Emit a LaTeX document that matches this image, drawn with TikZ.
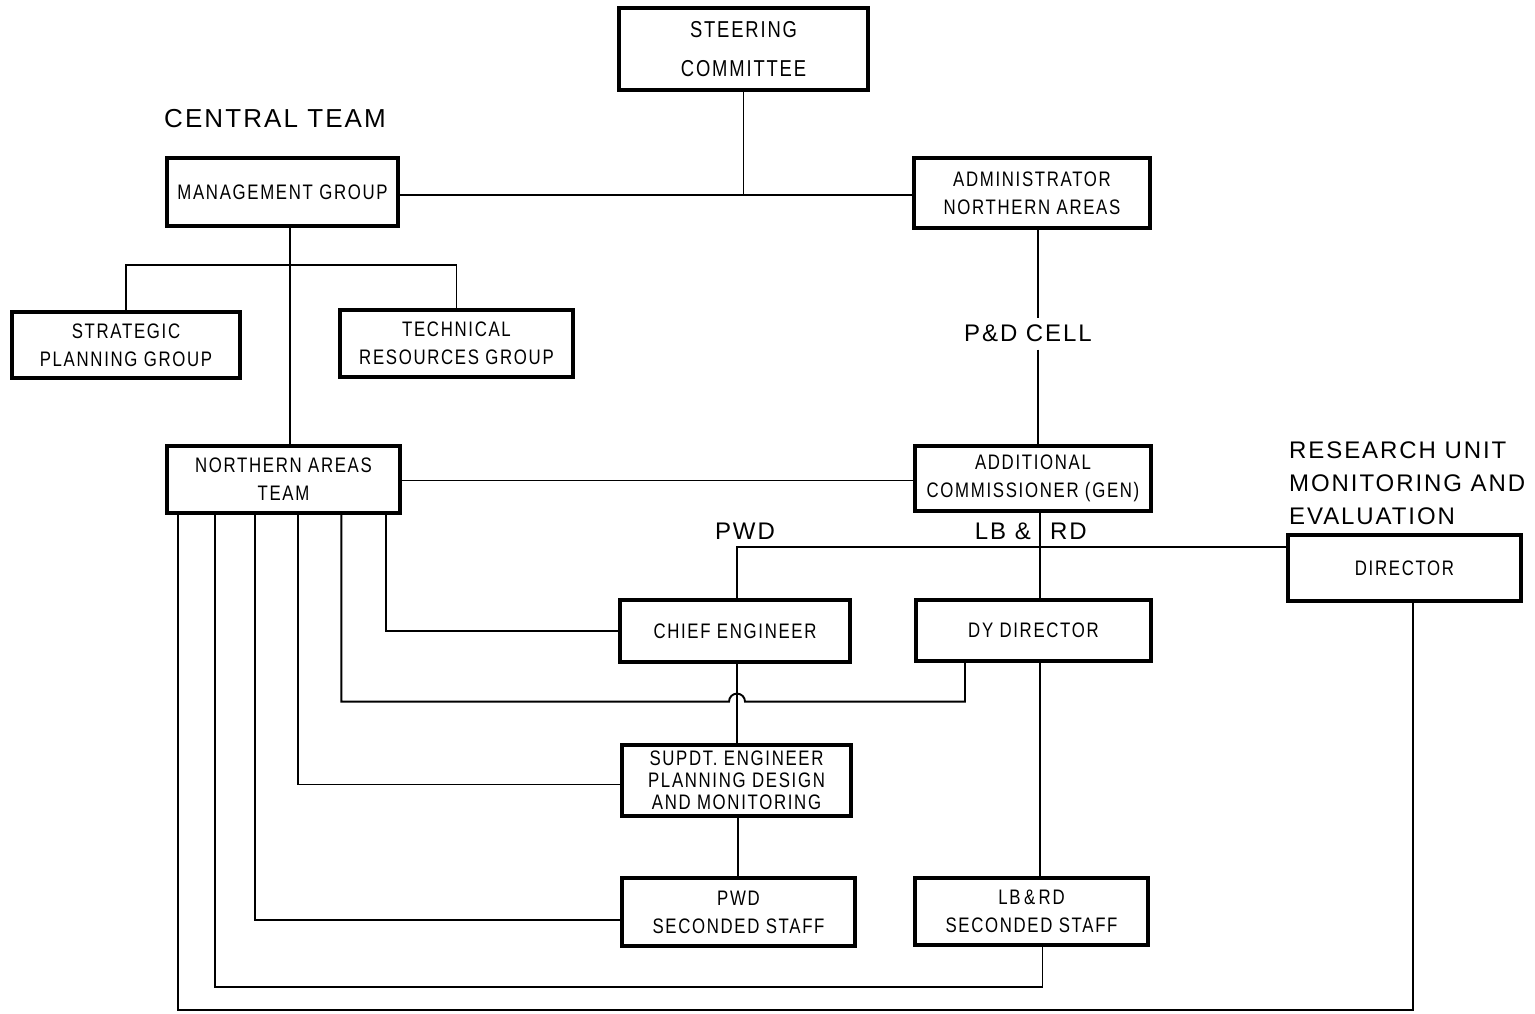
\documentclass[tikz,border=0pt]{standalone}
\usepackage{fontspec}
\setmainfont{Liberation Sans}
\newfontfamily\boxfont[FakeStretch=0.8,LetterSpace=8]{Liberation Sans}
\newfontfamily\headfont[LetterSpace=8]{Liberation Sans}
\begin{document}
\begin{tikzpicture}[x=1pt,y=-1pt,
  orgbox/.style={draw, line width=3.2pt, rectangle, inner sep=0pt, align=center,
    font=\boxfont\fontsize{21}{28}\selectfont},
  conn/.style={line width=1.9pt},
  head/.style={inner sep=0pt, font=\headfont\fontsize{24}{32}\selectfont}]
\useasboundingbox (0,0) rectangle (1535,1013);
\fill[white] (0,0) rectangle (1535,1013);

% boxes
\node[orgbox, minimum width=249pt, minimum height=82pt, font=\boxfont\fontsize{23}{39}\selectfont] (steer) at (743.5,49) {STEERING\\COMMITTEE};
\node[orgbox, minimum width=231pt, minimum height=68pt] (mgmt) at (282.5,192) {MANAGEMENT GROUP};
\node[orgbox, minimum width=236pt, minimum height=70pt] (admin) at (1032,193) {ADMINISTRATOR\\NORTHERN AREAS};
\node[orgbox, minimum width=228pt, minimum height=66pt] (strat) at (126,345) {STRATEGIC\\PLANNING GROUP};
\node[orgbox, minimum width=233pt, minimum height=67pt] (tech) at (456.5,343.5) {TECHNICAL\\RESOURCES GROUP};
\node[orgbox, minimum width=233pt, minimum height=67pt] (nat) at (283.5,479.5) {NORTHERN AREAS\\TEAM};
\node[orgbox, minimum width=236pt, minimum height=65pt] (addc) at (1033,478.5) {ADDITIONAL\\COMMISSIONER (GEN)};
\node[orgbox, minimum width=233pt, minimum height=66pt] (dir) at (1404.5,568) {DIRECTOR};
\node[orgbox, minimum width=230pt, minimum height=62pt] (chief) at (735,631) {CHIEF ENGINEER};
\node[orgbox, minimum width=235pt, minimum height=61pt] (dy) at (1033.5,630.5) {DY DIRECTOR};
\node[orgbox, minimum width=229pt, minimum height=71pt, font=\boxfont\fontsize{21}{22}\selectfont] (supdt) at (736.5,780.5) {SUPDT. ENGINEER\\PLANNING DESIGN\\AND MONITORING};
\node[orgbox, minimum width=233pt, minimum height=68pt] (pwds) at (738.5,912) {PWD\\SECONDED STAFF};
\node[orgbox, minimum width=233pt, minimum height=67pt] (lbs) at (1031.5,911.5) {LB\,\&\,RD\\SECONDED STAFF};

% headings
\node[head, font=\headfont\fontsize{26}{32}\selectfont] (central) at (275,119) {CENTRAL TEAM};
\node[head] (pd) at (1028,333) {P\&D CELL};
\node[head] (pwdl) at (745,531) {PWD};
\node[head, anchor=east] (lbl) at (1031,531) {LB \&};
\node[head, anchor=west] (rdl) at (1050,531) {RD};
\node[head, anchor=north west, align=left, font=\headfont\fontsize{24}{33}\selectfont] (rue) at (1289,442) {RESEARCH UNIT\\MONITORING AND\\EVALUATION};

% connectors
\coordinate (hy1) at ([yshift=-3pt]mgmt.east);
\draw[conn] (steer.south) -- (steer.south |- hy1);
\draw[conn] (hy1) -- (hy1 -| admin.west);
\draw[conn] (strat.north) -- ++(0,-45) -| (tech.north);
\coordinate (mx) at ([xshift=7.5pt]mgmt.south);
\draw[conn] (mx) -- (mx |- nat.north);
\coordinate (ax) at ([xshift=6pt]admin.south);
\draw[conn] (ax) -- ([yshift=6pt]ax |- pd.north);
\draw[conn] ([yshift=-8pt]ax |- pd.south) -- (ax |- addc.north);
\coordinate (hy2) at ([yshift=-1pt]nat.east);
\draw[conn] (hy2) -- (hy2 -| addc.west);
\coordinate (lx) at ([xshift=7pt]addc.south);
\draw[conn] (lx) -- (lx |- dy.north);
\coordinate (cx) at ([xshift=2pt]chief.north);
\draw[conn] ([yshift=21pt]dir.west) -- ([yshift=21pt]dir.west -| cx) -- (cx);

% from Northern Areas Team
\coordinate (n1) at ([xshift=13pt]nat.south west);
\coordinate (n2) at ([xshift=50pt]nat.south west);
\coordinate (n3) at ([xshift=90pt]nat.south west);
\coordinate (n4) at ([xshift=133pt]nat.south west);
\coordinate (n5) at ([xshift=176pt]nat.south west);
\coordinate (n6) at ([xshift=221pt]nat.south west);
\draw[conn] (n6) |- (chief.west);
\coordinate (hy) at ([yshift=-38pt]cx |- chief.south);
\coordinate (dyx) at ([xshift=-68.5pt]dy.south);
\draw[conn] (n5) |- ([xshift=-8pt]hy) arc[start angle=180, end angle=0, radius=8pt] -- (hy -| dyx) -- (dyx);
\draw[conn] (n4) |- ([yshift=-4pt]supdt.west);
\draw[conn] (n3) |- ([yshift=-8pt]pwds.west);
\coordinate (lbsx) at ([xshift=11pt]lbs.south);
\draw[conn] (n2) |- ([yshift=-40pt]lbsx) -- (lbsx);
\coordinate (dirx) at ([xshift=8.5pt]dir.south);
\draw[conn] (n1) |- ([yshift=-407pt]dirx) -- (dirx);

\draw[conn] (cx |- chief.south) -- (cx |- supdt.north);
\coordinate (sx) at ([xshift=1.5pt]supdt.south);
\draw[conn] (sx) -- (sx |- pwds.north);
\coordinate (dx) at ([xshift=6.5pt]dy.south);
\draw[conn] (dx) -- (dx |- lbs.north);
\end{tikzpicture}
\end{document}
